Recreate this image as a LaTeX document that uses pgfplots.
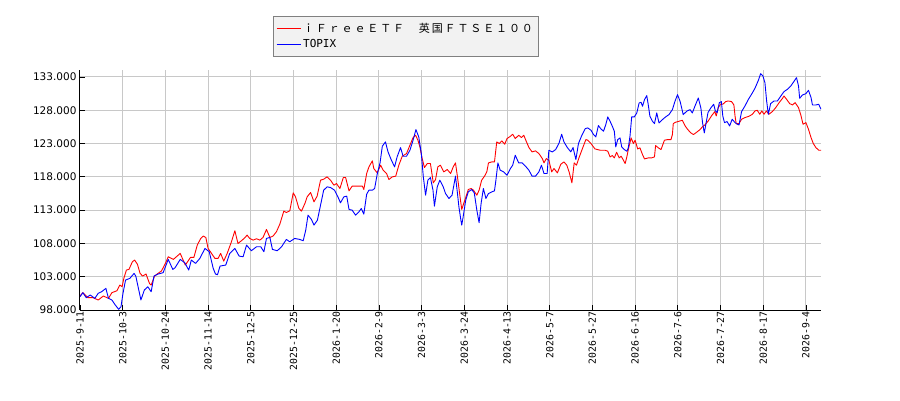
\documentclass[border=0pt]{standalone}
\usepackage{pgfplots}
\pgfplotsset{compat=1.18}
\usepackage{fontspec}
\setmainfont{DejaVu Sans}
\setmonofont{DejaVu Sans Mono}
\newfontfamily\cjk{Noto Sans CJK JP}[LetterSpace=17]
\definecolor{gridgray}{RGB}{200,200,200}
\definecolor{legfill}{RGB}{242,242,242}
\definecolor{legdraw}{RGB}{128,128,128}
\begin{document}
\begin{tikzpicture}
\path[use as bounding box] (-80pt,-90pt) rectangle (820pt,310pt);
\begin{axis}[
  at={(0pt,0pt)}, anchor=south west,
  scale only axis, width=741pt, height=240pt,
  xmin=0, xmax=260.3, ymin=98, ymax=134.05,
  axis lines=left, axis line style={-, black, line width=1pt},
  xtick={0,15,...,255},
  xticklabels={2025-9-11,2025-10-3,2025-10-24,2025-11-14,2025-12-5,2025-12-25,2026-1-20,2026-2-9,2026-3-3,2026-3-24,2026-4-13,2026-5-7,2026-5-27,2026-6-16,2026-7-6,2026-7-27,2026-8-17,2026-9-4},
  ytick={98,103,...,133},
  grid=major, major grid style={gridgray, line width=1pt},
  tick style={black, line width=0.8pt}, major tick length=5pt, tick align=inside,
  xticklabel style={rotate=90, anchor=east, font=\ttfamily\fontsize{9.8}{10}\selectfont, inner sep=1pt},
  yticklabel style={font=\fontsize{10.5}{12}\selectfont,
    /pgf/number format/fixed, /pgf/number format/fixed zerofill,
    /pgf/number format/precision=3, /pgf/number format/assume math mode=true},
  legend style={at={(0.2605,1.225)}, anchor=north west, draw=legdraw, fill=legfill,
    inner xsep=3pt, inner ysep=5pt, row sep=1.5pt, cells={anchor=west},
    font=\fontsize{11}{13}\selectfont},
  legend image code/.code={\path (0pt,0pt) -- (24pt,0pt);
    \draw[#1, line width=1.3pt] (1pt,0pt) -- (18pt,0pt);},
  every axis plot/.append style={no markers, line width=0.9pt, line join=round},
]
\addplot[red] coordinates {
(0,100.1)(1,100.6)(2.8,99.85)(4.6,99.85)(6.4,99.5)(8.2,100.1)(10,99.75)(11.2,100.6)(13,100.9)(14,101.75)(14.8,101.5)(15.4,102.75)(16.3,104)(17.2,104.1)(18.4,105.25)(19.2,105.5)(20.2,104.85)(21.1,103.5)(22,103.1)(23.2,103.4)(24.4,102)(25,101.75)(26.2,103.1)(27.4,103.5)(28.6,103.85)(30,105)(31,106)(32.8,105.6)(35.2,106.5)(37,104.75)(38.8,105.9)(40,105.9)(41.2,107.75)(42.4,108.75)(43.3,109.1)(44.2,108.9)(45,107.25)
(46.2,106.5)(47.4,105.75)(48.5,105.75)(49.4,106.5)(50.5,105.35)(51.7,106.5)(53.2,108.25)(54.4,109.9)(55.5,108)(56.7,108.4)(57.9,108.85)(58.7,109.25)(59.6,108.75)(60.8,108.5)(62,108.7)(63.2,108.5)(64.3,108.9)(65.5,110.1)(66.7,108.9)(67.8,109.1)(69,109.75)(70.2,110.9)(71.6,112.85)(72.5,112.65)(73.7,112.9)(74.9,115.6)(75.7,115)(76.9,113.25)(77.8,112.85)(79,114)(79.8,115)(81,115.65)(82.2,114.25)(83.3,115.1)(84.5,117.5)(85.6,117.65)(86.8,118)(88,117.5)
(89.2,116.75)(90.1,117)(91.3,116.25)(92.5,117.9)(93.3,117.9)(94.5,115.9)(95.6,116.6)(97.4,116.6)(99.2,116.6)(99.7,116.1)(100.7,118.5)(101.5,119.5)(102.7,120.4)(103.2,119.25)(104.4,118.6)(105.6,119.75)(106.5,119)(107.7,118.5)(108.5,117.6)(109.7,118)(110.9,118.1)(112,119.75)(113.2,121.1)(114.7,121.5)(115.9,122.75)(117,123.9)(117.9,124.25)(118.7,123.5)(119.4,122.5)(120.2,120.75)(121,119.4)(122,120)(123.1,120)(124.1,117.1)(124.9,117.6)(125.7,119.5)(126.6,119.75)(127.8,118.75)(129,119.1)(130.2,118.5)(131.1,119.5)(131.9,120.1)
(132.6,118)(133.5,115)(134.1,113.1)(134.6,113.75)(135.5,114.9)(136.4,116.1)(137.4,116.25)(138.2,116)(139.4,115.25)(140.2,116)(141.1,117.5)(142.1,118.1)(142.9,118.75)(143.5,120.1)(144.7,120.25)(145.6,120.25)(146.4,123.25)(147.3,123)(148.2,123.4)(149.2,122.9)(150,123.75)(151.2,124.1)(152,124.4)(152.9,123.75)(154.1,124.25)(155.1,123.9)(155.9,124.25)(156.7,123.4)(157.7,122.4)(158.8,121.75)(160,121.9)(161.2,121.5)(162.4,120.75)(163,120.1)(163.8,120.75)(164.7,120.5)(165.7,118.75)(166.5,119.25)(167.7,118.6)(168.9,119.9)(170,120.25)(171,119.75)(171.8,118.75)(172.8,117.1)(173.6,120.1)(174.4,119.75)(175.4,121)(176.5,122.25)(177.7,123.6)
(178.4,123.5)(179.5,123)(180.9,122.2)(182.7,122)(184.4,122)(185.4,121.85)(186.2,121)(187,121.2)(187.7,120.85)(188.5,121.7)(189.4,120.85)(190.1,121.1)(190.9,120.5)(191.5,120)(192.1,121)(192.6,122.1)(193.6,123.85)(194.4,123)(195,123.5)(195.9,122.2)(196.7,122.35)(197.6,121.35)(198.3,120.7)(199.7,120.85)(200.8,120.85)(201.8,121)(202.2,122.7)(203.2,122.35)(204.1,122.1)(205.3,123.5)(206.4,123.6)(207.6,123.6)(208.1,124.35)(208.4,126)(209.2,126.2)(210.4,126.35)(211.6,126.5)(212.5,125.7)(213.5,125.1)(214.6,124.6)(215.5,124.35)(216.6,124.7)(217.8,125.1)(218.6,125.5)(219.5,125.8)(220.7,126.4)(221.9,127.2)
(223,127.8)(223.5,127.15)(224.2,128.4)(225,128.9)(225.8,128.9)(226.8,129.3)(227.7,129.4)(228.9,129.3)(229.7,128.8)(230.1,127.15)(230.5,126)(231.5,126)(232.4,126.65)(233.6,126.9)(235,127.1)(236.2,127.4)(237.1,127.9)(237.9,128)(238.8,127.4)(239.5,127.9)(240.3,127.4)(241.1,127.9)(242,127.4)(243.2,127.8)(244.4,128.4)(245.6,129.15)(246.8,129.8)(247.3,130.15)(248.2,129.65)(249.3,129)(250.3,128.8)(251.2,129.15)(252.4,128.4)(253.2,127.3)(254,125.9)(255,126.15)(255.9,125.15)(256.8,123.9)(257.6,123)(258.5,122.4)(259.5,122)(260.3,122)
};
\addlegendentry{\cjk ｉＦｒｅｅＥＴＦ　英国ＦＴＳＥ１００}
\addplot[blue] coordinates {
(0,100)(1,100.6)(2.2,99.85)(3.6,100.25)(5.2,99.75)(6.4,100.5)(7.6,100.75)(9.1,101.25)(10,99.75)(11.2,99.5)(12.4,98.75)(13.6,98.1)(14.4,98.5)(15.1,100.5)(16,102.5)(17.5,102.75)(19,103.5)(19.6,103.1)(20.4,101.5)(21.4,99.5)(22.6,101)(23.8,101.5)(25,100.75)(26,103.1)(27.4,103.4)(29.2,103.6)(31,105.6)(32.6,104.1)(33.4,104.35)(35.2,105.6)(36.8,105.1)(38.2,104)(39.1,105.5)(40.6,105)(42.1,105.75)
(43.9,107.25)(45.4,106.75)(46.8,104.25)(47.6,103.4)(48.3,103.3)(49.2,104.6)(51.2,104.75)(52.6,106.5)(54.4,107.25)(55.9,106.1)(57.3,106)(58.5,107.75)(60.2,106.9)(62,107.5)(63.5,107.5)(64.6,106.75)(65.5,108.75)(66.7,108.9)(67.6,107.1)(69.3,106.9)(70.8,107.5)(72.5,108.6)(73.7,108.25)(75.4,108.75)(77.2,108.6)(78.4,108.4)(79.3,110)(80.1,112.25)(81.3,111.6)(82.2,110.75)(83.4,111.5)(84.5,113.75)(85.6,116)(86.8,116.5)(88,116.4)
(89.4,116)(90.6,115)(91.5,114.1)(92.7,115)(93.7,115.1)(94.5,113.1)(95.6,113)(96.8,112.25)(98,112.75)(98.8,113.25)(99.7,112.4)(100.7,115.4)(101.5,116)(102.7,116)(103.5,116.25)(104.4,118.4)(105.4,120.1)(106.2,122.6)(107.3,123.25)(108.2,121.75)(109.3,120.6)(110.5,119.5)(111.4,121)(112.6,122.4)(113.5,121.1)(114.7,121.1)(115.9,122)(117,123.5)(118,125.1)(119,124)(119.9,121.5)(120.6,118)(121.4,115.25)(122.2,117.5)(123.1,117.9)(124,116)(124.5,113.6)(125.5,116.5)(126.4,117.5)(127.6,116.5)(128.4,115.5)(129.6,114.75)(130.7,115.25)(131.9,118.1)
(132.6,115.5)(133.1,113.5)(133.8,111.5)(134.1,110.75)(134.6,112)(135.5,114.5)(136.4,115.75)(137.6,116.1)(138.5,115.6)(139.4,113)(140.2,111.1)(140.9,114)(141.7,116.25)(142.6,114.75)(143.5,115.5)(144.7,115.75)(145.6,115.9)(146.1,117.5)(146.8,120.1)(147.6,119)(148.8,118.75)(150,118.25)(151.2,119.25)(152,119.75)(152.9,121.25)(154.1,120.1)(155.3,120.1)(156.5,119.6)(157.7,119)(158.8,118.1)(160,118.1)(161.2,118.75)(162.1,119.75)(163,118.5)(164.1,118.5)(164.7,122)(165.9,121.75)(167.1,122.1)(168.3,123.1)(169.2,124.4)(170,123.25)(171.2,122.4)(172.4,121.75)(173.2,122.4)(174.2,120.6)(175.1,123)(176.3,124.25)(177.5,125.25)
(178.4,125.35)(179.5,125)(180.4,124.35)(181.2,124)(182.1,125.7)(183,125.2)(183.9,124.85)(184.7,125.85)(185.4,127)(186.2,126.35)(187,125.6)(187.7,124.85)(188.2,122.5)(188.9,123.6)(189.7,123.85)(190.3,122.5)(191.2,122.1)(192.1,121.85)(192.6,122.35)(193.2,124.1)(193.8,127)(194.7,127)(195.6,127.6)(196.4,129.1)(197.1,129.2)(197.6,128.6)(198.3,129.6)(199.1,130.2)(199.7,128.6)(200.2,127.1)(201.1,126.35)(201.8,126)(202.6,127.6)(203.4,126.1)(204.6,126.6)(205.7,127)(206.9,127.35)(208.1,128.1)(209,129.35)(209.9,130.35)(210.8,129.35)(211.9,127.35)(213.1,127.85)(214.3,128.1)(215.1,127.6)(216,128.6)(217.2,129.85)(218.1,128.35)(218.7,126.1)(219.3,124.6)
(220.6,127.65)(221.5,128.3)(222.6,128.9)(223.2,127.9)(223.8,127.65)(224.6,129.15)(225.3,129.3)(225.8,127.15)(226.4,126.15)(227.3,126.3)(228.2,125.65)(229.1,126.65)(230.1,126.15)(230.9,125.9)(231.5,125.8)(232.4,127.8)(233.6,128.65)(234.8,129.65)(235.9,130.4)(237.1,131.3)(238.3,132.5)(239.1,133.5)(239.9,133.15)(240.6,132.15)(241.2,129.4)(241.8,127.4)(242.6,129)(243.8,129.4)(245,129.4)(246.2,130.15)(247.3,130.8)(248.5,131.15)(249.7,131.65)(250.5,132.15)(251.7,132.9)(252.4,131.65)(252.8,129.8)(253.8,130.3)(255,130.5)(255.9,131)(256.8,129.9)(257.3,128.8)(258.5,128.8)(259.5,128.9)(260.3,128.15)
};
\addlegendentry{\ttfamily TOPIX}
\end{axis}
\end{tikzpicture}
\end{document}
